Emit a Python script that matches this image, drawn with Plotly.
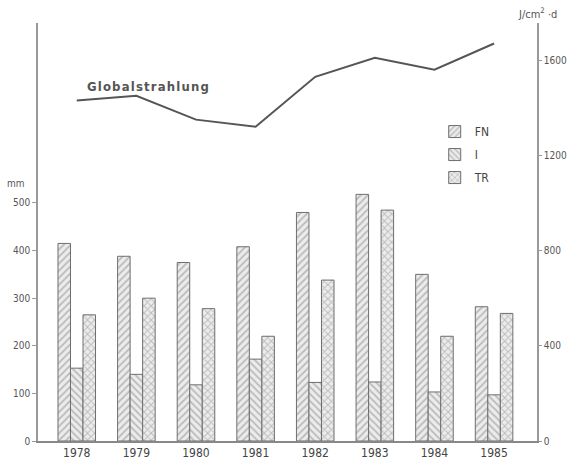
import plotly.graph_objects as go

years = ["1978", "1979", "1980", "1981", "1982", "1983", "1984", "1985"]
fn_vals = [415, 388, 375, 408, 480, 518, 350, 282]
i_vals = [153, 140, 118, 172, 123, 124, 103, 97]
tr_vals = [265, 300, 278, 220, 338, 485, 220, 268]
global_vals = [1430, 1450, 1350, 1320, 1530, 1610, 1560, 1670]

left_ticks = [0, 100, 200, 300, 400, 500]
right_ticks = [0, 400, 800, 1200, 1600]

xpos = list(range(len(years)))
FONT = "Liberation Sans Narrow, DejaVu Sans Condensed, Liberation Sans, sans-serif"

fig = go.Figure()

def bar(name, vals, shape):
    return go.Bar(
        x=xpos, y=vals, name=name, legendgroup=name,
        marker=dict(
            color="#ececec",
            line=dict(color="#6e6e6e", width=1),
            pattern=dict(shape=shape, fgcolor="#8a8a8a", bgcolor="#ececec",
                         size=5, solidity=0.35),
        ),
    )

fig.add_trace(bar("FN", fn_vals, "/"))
fig.add_trace(bar("I", i_vals, "\\"))
fig.add_trace(bar("TR", tr_vals, "x"))

fig.add_trace(go.Scatter(
    x=xpos, y=global_vals, yaxis="y2", mode="lines",
    line=dict(color="#555555", width=2), showlegend=False,
    name="Globalstrahlung",
))

hs = "\u200a"
label = hs.join("Globalstrahlung")

fig.update_layout(
    width=569, height=462,
    margin=dict(l=38, r=32, t=23, b=21, autoexpand=False),
    paper_bgcolor="white", plot_bgcolor="white",
    barmode="group", bargap=0.37, bargroupgap=0,
    font=dict(family=FONT, color="#444444", size=11),
    showlegend=True,
    legend=dict(
        x=0.795, y=0.775, xanchor="left", yanchor="top",
        bgcolor="rgba(0,0,0,0)", font=dict(size=12, color="#444444"),
        itemwidth=30, tracegroupgap=4,
    ),
    xaxis=dict(
        automargin=False,
        range=[-0.65, 7.72], tickmode="array", tickvals=xpos, ticktext=years,
        showline=True, linecolor="#888888", linewidth=1.5,
        showgrid=False, zeroline=False, ticks="",
        tickfont=dict(size=12, color="#444444", family=FONT),
    ),
    yaxis=dict(
        automargin=False,
        range=[0, 878], tickmode="array", tickvals=left_ticks,
        showline=True, linecolor="#999999", linewidth=1.5,
        showgrid=False, zeroline=False, ticks="outside", ticklen=4,
        tickcolor="#999999", tickfont=dict(size=10, color="#555555"),
    ),
    yaxis2=dict(
        automargin=False,
        range=[0, 1756], overlaying="y", side="right", tickmode="array",
        tickvals=right_ticks,
        showline=True, linecolor="#999999", linewidth=1.5,
        showgrid=False, zeroline=False, ticks="outside", ticklen=3,
        tickcolor="#999999", tickfont=dict(size=10, color="#555555"),
    ),
    annotations=[
        dict(text="mm", xref="paper", yref="paper", x=-0.045, y=0.617,
             xanchor="center", yanchor="middle", showarrow=False,
             font=dict(size=10, color="#555555")),
        dict(text="J/cm<sup>2</sup> ·d", xref="paper", yref="paper", x=1.0, y=1.022,
             xanchor="center", yanchor="middle", showarrow=False,
             font=dict(size=11, color="#555555")),
        dict(text="<b>" + label + "</b>", xref="paper", yref="paper",
             x=0.094, y=0.849, xanchor="left", yanchor="middle", showarrow=False,
             font=dict(size=13, color="#555555")),
    ],
)

fig.write_html("out.html", config={"displayModeBar": False},
               post_script="document.body.style.margin='0';document.body.style.padding='0';")
